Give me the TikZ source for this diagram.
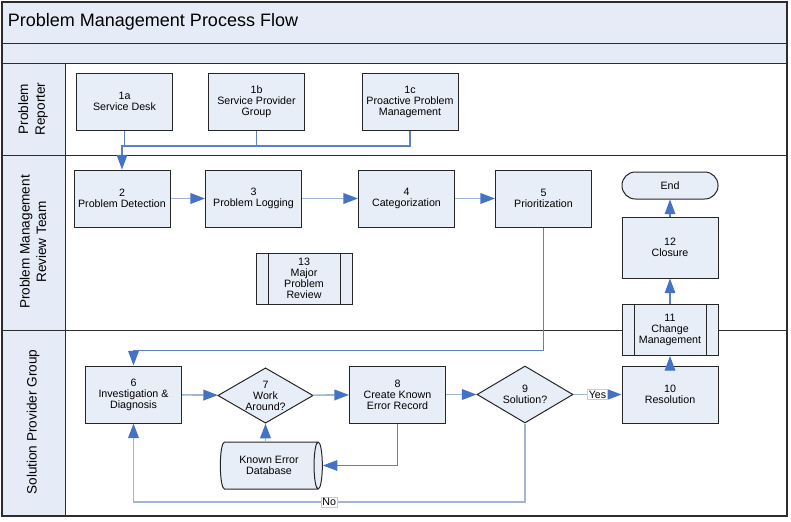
\documentclass[tikz,border=0pt]{standalone}
\usepackage{fontspec}
\setmainfont{Liberation Sans}
\usetikzlibrary{shapes.geometric,arrows.meta}

\definecolor{bandfill}{RGB}{230,236,247}
\definecolor{boxfill}{RGB}{232,238,248}
\definecolor{framecol}{RGB}{45,45,45}
\definecolor{linelight}{RGB}{160,180,214}
\definecolor{linedark}{RGB}{90,130,195}
\definecolor{tipcol}{RGB}{68,114,196}

\newcommand{\pmboxfont}{\fontsize{8}{8.25}\selectfont}
\newcommand{\pmlanefont}{\fontsize{10.2}{12.5}\selectfont}
\newcommand{\pmtitlefont}{\fontsize{13.5}{16}\selectfont}

\tikzset{every picture/.style={line width=0.75pt}}
\tikzset{
  proc/.style={draw=black!85, fill=boxfill, minimum width=72pt, minimum height=42.75pt, inner sep=0pt, align=center, font=\pmboxfont},
  subproc/.style={proc, minimum height=38.25pt,
    path picture={
      \draw[black!85] ([xshift=9pt]path picture bounding box.north west) -- ([xshift=9pt]path picture bounding box.south west);
      \draw[black!85] ([xshift=-9pt]path picture bounding box.north east) -- ([xshift=-9pt]path picture bounding box.south east);
    }},
  terminal/.style={proc, minimum height=20.25pt, rounded corners=10pt},
  decision/.style={diamond, draw=black!85, fill=boxfill, minimum width=71.5pt, minimum height=41.5pt, inner sep=0pt, aspect=1.7},
  dectext/.style={align=center, font=\pmboxfont},
  store/.style={cylinder, shape border rotate=0, aspect=0.45, draw=black!85, fill=boxfill, minimum width=35.25pt, minimum height=76.5pt, inner sep=0pt, align=center, font=\pmboxfont},
  lanelabel/.style={rotate=90, align=center, font=\pmlanefont},
  flow/.style={draw=linelight, line width=1.2pt, -{Triangle[length=11pt,width=8pt,color=tipcol]}},
  flowdark/.style={draw=linedark, line width=0.8pt, -{Triangle[length=11pt,width=8pt,color=tipcol]}},
  linkdark/.style={draw=linedark, line width=0.8pt},
  edgelabel/.style={fill=white, draw=black!20, line width=0.4pt, inner sep=1pt, font=\pmboxfont}
}

\begin{document}
\begin{tikzpicture}[x=0.75pt,y=0.75pt,yscale=-1,xscale=1]
    \useasboundingbox (0,0) rectangle (791,521);

    %Shape: Bands and lanes
    \fill[bandfill] (2,2) rectangle (787,63);
    \fill[bandfill] (2,63) rectangle (65,516);
    \draw[framecol] (2,43) -- (787,43);
    \draw[framecol] (2,63) -- (787,63);
    \draw[framecol] (2,155) -- (787,155);
    \draw[framecol] (2,330) -- (787,330);
    \draw[framecol] (65,63) -- (65,516);
    \draw[framecol, line width=1.1pt] (2,2) rectangle (787,516);

    % Text Node
    \node[anchor=west, font=\pmtitlefont] (title) at (3,22) {Problem Management Process Flow};
    \node[lanelabel] (lane1) at (33,109) {Problem\\Reporter};
    \node[lanelabel] (lane2) at (33,242) {Problem Management\\Review Team};
    \node[lanelabel] (lane3) at (33,422) {Solution Provider Group};

    %Shape: Rectangle
    \node[proc] (n1a) at (124.5,101.5) {1a\\Service Desk};
    \node[proc] (n1b) at (256.5,101.5) {1b\\Service Provider\\Group};
    \node[proc] (n1c) at (410,101.5) {1c\\Proactive Problem\\Management};

    \node[proc] (n2) at (122,198.5) {2\\Problem Detection};
    \node[proc] (n3) at (253.5,198.5) {3\\Problem Logging};
    \node[proc] (n4) at (406.5,198.5) {4\\Categorization};
    \node[proc] (n5) at (543.5,198.5) {5\\Prioritization};
    \node[terminal] (nend) at (670,185.5) {End};
    \node[proc, minimum height=45.75pt] (n12) at (670,247.5) {12\\Closure};
    \node[subproc] (n13) at (304,278.5) {13\\Major\\Problem\\Review};
    \node[subproc] (n11) at (670,330) {11\\Change\\Management};

    \node[proc] (n6) at (133.5,394.5) {6\\Investigation \&\\Diagnosis};
    %Shape: Diamond
    \node[decision, label={[dectext]center:{7\\Work\\Around?}}] (n7) at (265.5,395.5) {};
    \node[proc] (n8) at (397.5,394.5) {8\\Create Known\\Error Record};
    \node[decision, minimum width=72pt, minimum height=42.75pt, label={[dectext]center:{9\\Solution?}}] (n9) at (525,394.5) {};
    \node[proc] (n10) at (670,394.5) {10\\Resolution};
    %Shape: Cylinder
    \node[store] (ndb) at (269,465.5) {Known Error\\Database};

    \coordinate (cjoin) at (122,146);
    \coordinate (ctop) at (133.5,350.5);
    \coordinate (cno) at (133.5,502);

    %Straight Lines
    \draw[linkdark] (n1a.south) -- (n1a.south |- cjoin);
    \draw[linkdark] (n1b.south) -- (n1b.south |- cjoin);
    \draw[flowdark] (n1c.south) |- (cjoin) -- (n2.north);

    \draw[flow] (n2) -- (n3);
    \draw[flow] (n3) -- (n4);
    \draw[flow] (n4) -- (n5);
    \draw[flowdark] (n5.south) |- (ctop) -- (n6.north);

    \draw[flow] (n6) -- (n7);
    \draw[flow] (n7) -- (n8);
    \draw[flow] (n8) -- (n9);
    \draw[flow] (n9) -- node[edgelabel] {Yes} (n10);
    \draw[flowdark] (n8.south) |- (ndb.east);
    \draw[flow] (n7.south |- ndb.north) -- (n7.south);
    \draw[flow] (n9.south) |- node[edgelabel, pos=0.75] {No} (cno) -- (n6.south);

    \draw[flowdark] (n10) -- (n11);
    \draw[flowdark] (n11) -- (n12);
    \draw[flowdark] (n12) -- (nend);

\end{tikzpicture}
\end{document}
